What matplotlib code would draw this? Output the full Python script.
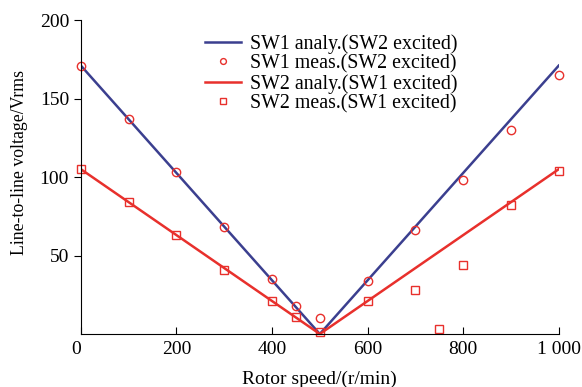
import matplotlib.pyplot as plt

plt.rcParams['font.family'] = ['Liberation Serif', 'DejaVu Serif']

# --- data ---
speed_line = [0, 500, 1000]
sw1_analy = [171, 0, 171]
sw2_analy = [105, 0, 105]

speed_meas = [0, 100, 200, 300, 400, 450, 500, 600, 700, 800, 900, 1000]
sw1_meas = [171, 137, 103, 68, 35, 18, 10, 34, 66, 98, 130, 165]

speed_meas2 = [0, 100, 200, 300, 400, 450, 500, 600, 700, 750, 800, 900, 1000]
sw2_meas = [105, 84, 63, 41, 21, 11, 1, 21, 28, 3, 44, 82, 104]

x_ticks = [0, 200, 400, 600, 800, 1000]
x_labels = ['0', '200', '400', '600', '800', '1 000']
y_ticks = [50, 100, 150, 200]

BLUE = '#3b3f8f'
RED = '#e8302c'

fig = plt.figure(figsize=(5.82, 3.87), dpi=100)
ax = fig.add_axes([0.139, 0.137, 0.821, 0.811])

ax.plot(speed_line, sw1_analy, color=BLUE, lw=1.8, label='SW1 analy.(SW2 excited)')
ax.plot(speed_meas, sw1_meas, 'o', mfc='none', mec=RED, ms=6, mew=1.0,
        clip_on=False, label='SW1 meas.(SW2 excited)')
ax.plot(speed_line, sw2_analy, color=RED, lw=1.8, label='SW2 analy.(SW1 excited)')
ax.plot(speed_meas2, sw2_meas, 's', mfc='none', mec=RED, ms=6, mew=1.0,
        clip_on=False, label='SW2 meas.(SW1 excited)')

ax.set_xlim(0, 1000)
ax.set_ylim(0, 200)
ax.set_xticks(x_ticks)
ax.set_xticklabels(x_labels)
ax.get_xticklabels()[0].set_ha('right')
ax.set_yticks(y_ticks)
ax.spines['top'].set_visible(False)
ax.spines['right'].set_visible(False)
ax.tick_params(axis='x', direction='in', length=5, labelsize=14, pad=5)
ax.tick_params(axis='y', direction='out', length=5, labelsize=14)
ax.set_xlabel('Rotor speed/(r/min)', fontsize=14)
ax.xaxis.set_label_coords(0.5, -0.118)
ax.set_ylabel('Line-to-line voltage/Vrms', fontsize=12.8)
ax.yaxis.set_label_coords(-0.11, 0.546)

ax.legend(loc='upper left', bbox_to_anchor=(0.352, 0.912),
          bbox_transform=fig.transFigure, frameon=False,
          borderpad=0, borderaxespad=0,
          fontsize=14.3, handlelength=1.8, handletextpad=0.45, labelspacing=0.02,
          markerscale=0.7)

fig.savefig('out.png', dpi=100)
